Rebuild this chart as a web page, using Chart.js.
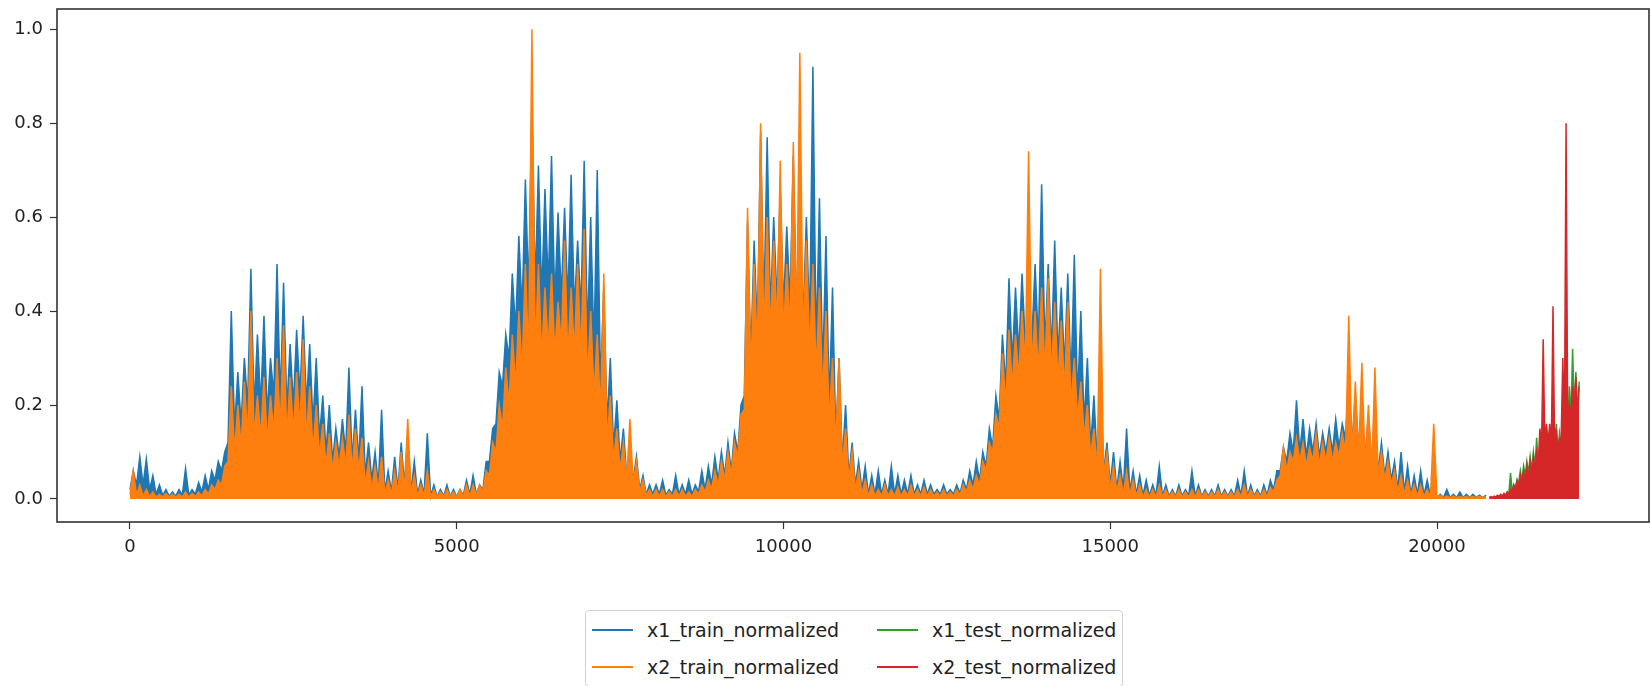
<!DOCTYPE html>
<html>
<head>
<meta charset="utf-8">
<script src="https://cdn.jsdelivr.net/npm/chart.js@4.4.1/dist/chart.umd.min.js"></script>
<style>
  body { margin: 0; background: #fff; }
  #wrap { position: relative; width: 1651px; height: 686px; }
  #legend {
    position: absolute; left: 585px; top: 610px; width: 536px; height: 75px;
    border: 1px solid #d0d0d0; border-radius: 4px; background: #fff;
    font-family: 'DejaVu Sans', sans-serif; font-size: 19px; color: #222;
  }
  .item { position: absolute; height: 24px; display: flex; align-items: center; }
  .item .handle { width: 41px; height: 2.5px; margin-right: 14px; }
</style>
</head>
<body>
<div id="wrap">
  <canvas id="chart" width="1651" height="686"></canvas>
  <div id="legend"></div>
</div>
<script>
// series names (legend order)
const seriesNames = ['x1_train_normalized', 'x2_train_normalized', 'x1_test_normalized', 'x2_test_normalized'];
const seriesColors = ['#1f77b4', '#ff7f0e', '#2ca02c', '#d62728'];

// sample index where each block starts, and width of one bin (samples)
const trainStart = 0, trainBin = 100;
const testStart = 20800, testBin = 50;

// per bin: floor = level the dense trace fills up to, peak = highest spike
const x1TrainPeaks = [
  0.06, 0.09, 0.085, 0.05, 0.03, 0.02, 0.015, 0.02, 0.065, 0.02,
  0.035, 0.05, 0.06, 0.08, 0.10, 0.40, 0.27, 0.30, 0.49, 0.35,
  0.39, 0.30, 0.50, 0.46, 0.33, 0.36, 0.39, 0.33, 0.30, 0.22,
  0.20, 0.15, 0.17, 0.28, 0.19, 0.24, 0.12, 0.10, 0.19, 0.06,
  0.09, 0.12, 0.14, 0.08, 0.04, 0.14, 0.03, 0.02, 0.03, 0.02,
  0.02, 0.04, 0.05, 0.03, 0.08, 0.15, 0.27, 0.35, 0.48, 0.56,
  0.68, 0.85, 0.71, 0.66, 0.73, 0.61, 0.62, 0.69, 0.55, 0.72,
  0.60, 0.70, 0.45, 0.30, 0.21, 0.15, 0.10, 0.09, 0.05, 0.03,
  0.03, 0.04, 0.02, 0.05, 0.03, 0.04, 0.03, 0.06, 0.07, 0.09,
  0.10, 0.12, 0.14, 0.20, 0.59, 0.55, 0.78, 0.77, 0.60, 0.66,
  0.58, 0.73, 0.64, 0.60, 0.92, 0.64, 0.56, 0.45, 0.30, 0.20,
  0.12, 0.08, 0.07, 0.05, 0.06, 0.04, 0.07, 0.05, 0.04, 0.05,
  0.03, 0.04, 0.03, 0.02, 0.03, 0.02, 0.03, 0.04, 0.06, 0.08,
  0.10, 0.15, 0.22, 0.35, 0.47, 0.45, 0.48, 0.42, 0.50, 0.67,
  0.50, 0.55, 0.45, 0.48, 0.52, 0.40, 0.30, 0.22, 0.18, 0.12,
  0.10, 0.08, 0.15, 0.06, 0.05, 0.04, 0.03, 0.07, 0.03, 0.02,
  0.03, 0.02, 0.06, 0.03, 0.02, 0.02, 0.03, 0.02, 0.02, 0.04,
  0.06, 0.03, 0.02, 0.03, 0.04, 0.06, 0.11, 0.14, 0.21, 0.17,
  0.15, 0.16, 0.14, 0.15, 0.17, 0.16, 0.25, 0.22, 0.20, 0.18,
  0.16, 0.12, 0.10, 0.08, 0.10, 0.07, 0.05, 0.06, 0.04, 0.03,
  0.01, 0.02, 0.01, 0.015, 0.01, 0.01, 0.008, 0.008
];
const x1TrainFloors = [
  0.02, 0.03, 0.03, 0.02, 0.01, 0.008, 0.006, 0.006, 0.008, 0.008,
  0.01, 0.015, 0.02, 0.04, 0.06, 0.12, 0.15, 0.16, 0.20, 0.19,
  0.20, 0.18, 0.22, 0.21, 0.19, 0.20, 0.22, 0.20, 0.16, 0.13,
  0.10, 0.08, 0.09, 0.10, 0.08, 0.08, 0.05, 0.04, 0.03, 0.015,
  0.015, 0.02, 0.03, 0.015, 0.01, 0.01, 0.006, 0.005, 0.006, 0.005,
  0.005, 0.008, 0.01, 0.01, 0.02, 0.08, 0.16, 0.24, 0.30, 0.36,
  0.40, 0.44, 0.45, 0.43, 0.45, 0.42, 0.43, 0.42, 0.40, 0.40,
  0.35, 0.32, 0.24, 0.16, 0.11, 0.08, 0.05, 0.04, 0.02, 0.01,
  0.01, 0.01, 0.008, 0.01, 0.01, 0.01, 0.01, 0.015, 0.02, 0.03,
  0.04, 0.05, 0.06, 0.10, 0.22, 0.30, 0.36, 0.40, 0.40, 0.42,
  0.41, 0.42, 0.40, 0.38, 0.37, 0.32, 0.27, 0.20, 0.13, 0.08,
  0.05, 0.03, 0.02, 0.01, 0.01, 0.01, 0.01, 0.01, 0.01, 0.01,
  0.01, 0.01, 0.01, 0.01, 0.01, 0.01, 0.01, 0.012, 0.02, 0.03,
  0.04, 0.07, 0.11, 0.17, 0.24, 0.29, 0.31, 0.33, 0.34, 0.33,
  0.32, 0.31, 0.30, 0.28, 0.25, 0.21, 0.16, 0.11, 0.08, 0.06,
  0.03, 0.02, 0.02, 0.015, 0.01, 0.008, 0.007, 0.008, 0.006, 0.006,
  0.006, 0.006, 0.007, 0.006, 0.006, 0.006, 0.006, 0.006, 0.006, 0.006,
  0.007, 0.006, 0.006, 0.006, 0.008, 0.02, 0.06, 0.08, 0.10, 0.10,
  0.09, 0.10, 0.09, 0.10, 0.10, 0.11, 0.13, 0.12, 0.11, 0.09,
  0.08, 0.06, 0.05, 0.04, 0.02, 0.015, 0.01, 0.01, 0.008, 0.006,
  0.003, 0.003, 0.003, 0.003, 0.003, 0.003, 0.003, 0.003
];
const x2TrainPeaks = [
  0.06, 0.03, 0.02, 0.015, 0.01, 0.012, 0.01, 0.01, 0.015, 0.012,
  0.015, 0.02, 0.03, 0.04, 0.07, 0.24, 0.20, 0.25, 0.40, 0.22,
  0.26, 0.22, 0.30, 0.37, 0.26, 0.27, 0.34, 0.24, 0.20, 0.16,
  0.14, 0.12, 0.13, 0.18, 0.15, 0.13, 0.08, 0.07, 0.09, 0.04,
  0.06, 0.10, 0.17, 0.05, 0.03, 0.06, 0.02, 0.015, 0.02, 0.015,
  0.02, 0.03, 0.03, 0.03, 0.06, 0.12, 0.20, 0.28, 0.35, 0.40,
  0.50, 1.00, 0.50, 0.45, 0.48, 0.42, 0.55, 0.45, 0.50, 0.575,
  0.40, 0.35, 0.48, 0.22, 0.15, 0.12, 0.17, 0.08, 0.04, 0.02,
  0.02, 0.02, 0.015, 0.02, 0.02, 0.015, 0.02, 0.03, 0.04, 0.06,
  0.08, 0.10, 0.12, 0.18, 0.62, 0.50, 0.80, 0.60, 0.55, 0.72,
  0.50, 0.76, 0.95, 0.55, 0.50, 0.45, 0.40, 0.30, 0.30, 0.15,
  0.10, 0.06, 0.04, 0.03, 0.02, 0.03, 0.02, 0.025, 0.02, 0.03,
  0.02, 0.025, 0.02, 0.015, 0.02, 0.015, 0.02, 0.03, 0.04, 0.05,
  0.08, 0.12, 0.18, 0.31, 0.36, 0.35, 0.40, 0.74, 0.40, 0.45,
  0.47, 0.42, 0.38, 0.42, 0.30, 0.25, 0.20, 0.15, 0.49, 0.10,
  0.07, 0.05, 0.06, 0.04, 0.03, 0.02, 0.02, 0.03, 0.02, 0.015,
  0.02, 0.015, 0.02, 0.02, 0.015, 0.015, 0.02, 0.015, 0.015, 0.02,
  0.03, 0.02, 0.015, 0.02, 0.025, 0.04, 0.11, 0.10, 0.13, 0.12,
  0.11, 0.14, 0.12, 0.13, 0.12, 0.14, 0.39, 0.25, 0.29, 0.20,
  0.28, 0.10, 0.08, 0.06, 0.05, 0.04, 0.03, 0.03, 0.02, 0.16,
  0.008, 0.006, 0.006, 0.005, 0.005, 0.005, 0.005, 0.005
];
const x2TrainFloors = [
  0.01, 0.008, 0.006, 0.005, 0.004, 0.004, 0.004, 0.004, 0.004, 0.004,
  0.005, 0.006, 0.01, 0.02, 0.03, 0.08, 0.10, 0.11, 0.13, 0.13,
  0.13, 0.12, 0.14, 0.15, 0.13, 0.14, 0.15, 0.13, 0.10, 0.09,
  0.07, 0.06, 0.07, 0.07, 0.06, 0.06, 0.03, 0.02, 0.02, 0.01,
  0.01, 0.012, 0.015, 0.01, 0.006, 0.006, 0.004, 0.004, 0.004, 0.004,
  0.004, 0.005, 0.006, 0.008, 0.015, 0.05, 0.10, 0.15, 0.20, 0.24,
  0.27, 0.30, 0.31, 0.30, 0.32, 0.31, 0.33, 0.30, 0.31, 0.30,
  0.25, 0.22, 0.18, 0.12, 0.08, 0.06, 0.04, 0.03, 0.015, 0.008,
  0.005, 0.005, 0.005, 0.005, 0.005, 0.005, 0.005, 0.01, 0.015, 0.02,
  0.03, 0.04, 0.05, 0.09, 0.19, 0.26, 0.31, 0.34, 0.35, 0.36,
  0.35, 0.36, 0.35, 0.33, 0.31, 0.27, 0.22, 0.16, 0.11, 0.07,
  0.04, 0.02, 0.01, 0.006, 0.006, 0.006, 0.006, 0.006, 0.006, 0.006,
  0.006, 0.006, 0.006, 0.006, 0.006, 0.006, 0.006, 0.008, 0.015, 0.02,
  0.03, 0.06, 0.10, 0.15, 0.20, 0.24, 0.26, 0.28, 0.28, 0.27,
  0.27, 0.26, 0.25, 0.23, 0.20, 0.17, 0.13, 0.09, 0.06, 0.05,
  0.02, 0.015, 0.01, 0.008, 0.006, 0.004, 0.004, 0.004, 0.004, 0.004,
  0.004, 0.004, 0.004, 0.004, 0.004, 0.004, 0.004, 0.004, 0.004, 0.004,
  0.004, 0.004, 0.004, 0.004, 0.004, 0.015, 0.05, 0.06, 0.08, 0.08,
  0.07, 0.08, 0.07, 0.08, 0.08, 0.09, 0.10, 0.09, 0.09, 0.07,
  0.06, 0.05, 0.04, 0.03, 0.015, 0.01, 0.008, 0.006, 0.005, 0.004,
  0.003, 0.003, 0.003, 0.003, 0.003, 0.003, 0.003, 0.003
];
const x1TestPeaks = [
  0.005, 0.005, 0.006, 0.008, 0.01, 0.015, 0.055, 0.03, 0.04, 0.06,
  0.07, 0.08, 0.09, 0.10, 0.13, 0.11, 0.12, 0.14, 0.15, 0.13,
  0.16, 0.14, 0.17, 0.20, 0.24, 0.32, 0.27, 0.25
];
const x1TestFloors = [
  0.003, 0.003, 0.004, 0.005, 0.006, 0.008, 0.012, 0.018, 0.025, 0.035,
  0.04, 0.05, 0.055, 0.06, 0.07, 0.07, 0.08, 0.09, 0.09, 0.09,
  0.10, 0.10, 0.11, 0.13, 0.15, 0.17, 0.18, 0.17
];
const x2TestPeaks = [
  0.005, 0.006, 0.008, 0.01, 0.012, 0.015, 0.02, 0.03, 0.04, 0.05,
  0.06, 0.07, 0.08, 0.09, 0.10, 0.15, 0.34, 0.16, 0.16, 0.41,
  0.15, 0.13, 0.30, 0.80, 0.20, 0.24, 0.26, 0.24
];
const x2TestFloors = [
  0.003, 0.003, 0.004, 0.005, 0.006, 0.008, 0.01, 0.015, 0.02, 0.025,
  0.03, 0.035, 0.04, 0.05, 0.06, 0.08, 0.11, 0.12, 0.12, 0.12,
  0.11, 0.10, 0.13, 0.15, 0.15, 0.18, 0.20, 0.18
];

const xTicks = [0, 5000, 10000, 15000, 20000];
const yTicks = [0.0, 0.2, 0.4, 0.6, 0.8, 1.0];

// each bin: dense level at its start, spike top in its middle
function toPoints(start, bin, floors, peaks) {
  const pts = [];
  floors.forEach((f, i) => {
    const x0 = start + i * bin;
    pts.push({ x: x0, y: f });
    pts.push({ x: x0 + bin / 2, y: peaks[i] });
  });
  return pts;
}

const seriesPoints = [
  toPoints(trainStart, trainBin, x1TrainFloors, x1TrainPeaks),
  toPoints(trainStart, trainBin, x2TrainFloors, x2TrainPeaks),
  toPoints(testStart, testBin, x1TestFloors, x1TestPeaks),
  toPoints(testStart, testBin, x2TestFloors, x2TestPeaks)
];

Chart.defaults.font.family = "'DejaVu Sans', sans-serif";
Chart.defaults.font.size = 18;
Chart.defaults.color = '#222';

const frame = {
  id: 'frame',
  afterDatasetsDraw(chart) {
    const { ctx, chartArea: a } = chart;
    ctx.save();
    ctx.strokeStyle = '#333';
    ctx.lineWidth = 1.6;
    ctx.strokeRect(a.left, a.top, a.right - a.left, a.bottom - a.top);
    ctx.restore();
  }
};

new Chart(document.getElementById('chart'), {
  type: 'line',
  data: {
    datasets: seriesNames.map((name, i) => ({
      label: name,
      data: seriesPoints[i],
      borderColor: seriesColors[i],
      backgroundColor: seriesColors[i],
      borderWidth: 1.5,
      pointRadius: 0,
      tension: 0,
      fill: 'origin',
      order: 4 - i
    }))
  },
  options: {
    responsive: false,
    animation: false,
    devicePixelRatio: 1,
    layout: { padding: { top: 9, right: 2, left: 0, bottom: 0 } },
    plugins: { legend: { display: false }, tooltip: { enabled: false } },
    scales: {
      x: {
        type: 'linear',
        min: -1117,
        max: 23244,
        afterBuildTicks: s => { s.ticks = xTicks.map(v => ({ value: v })); },
        afterFit: s => { s.height = 164; s.paddingLeft = 0; s.paddingRight = 0; },
        grid: { drawOnChartArea: false, tickLength: 7, color: '#333', tickWidth: 1.2 },
        border: { display: false },
        ticks: { padding: 8, maxRotation: 0, callback: v => String(v) }
      },
      y: {
        min: -0.049,
        max: 1.043,
        afterBuildTicks: s => { s.ticks = yTicks.map(v => ({ value: v })); },
        afterFit: s => { s.width = 57; s.paddingTop = 0; s.paddingBottom = 0; },
        grid: { drawOnChartArea: false, tickLength: 7, color: '#333', tickWidth: 1.2 },
        border: { display: false },
        ticks: { padding: 7, callback: v => v.toFixed(1) }
      }
    }
  },
  plugins: [frame]
});

// legend box under the plot, two columns like the original
const legend = document.getElementById('legend');
const cols = [[6, 61], [291, 345]];
seriesNames.forEach((name, i) => {
  const col = Math.floor(i / 2), row = i % 2;
  const el = document.createElement('div');
  el.className = 'item';
  el.style.left = cols[col][0] + 'px';
  el.style.top = (row === 0 ? 7 : 44) + 'px';
  el.innerHTML = '<span class="handle" style="background:' + seriesColors[i] + '"></span><span>' + name + '</span>';
  legend.appendChild(el);
});
</script>
</body>
</html>
